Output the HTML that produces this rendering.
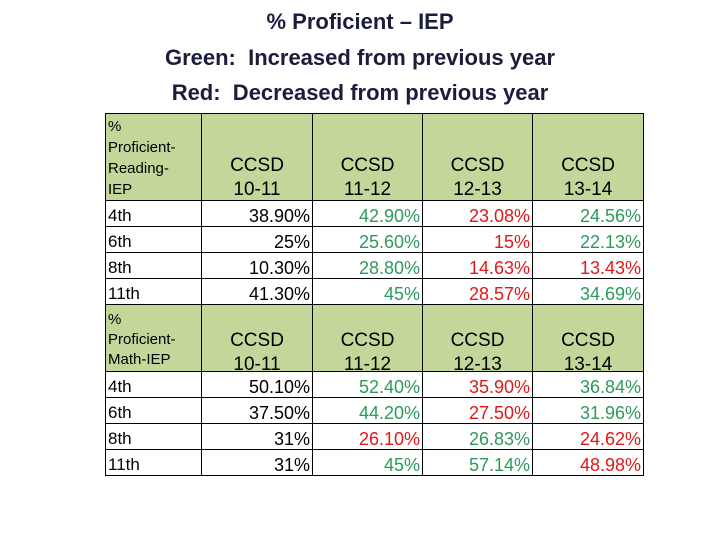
<!DOCTYPE html>
<html><head><meta charset="utf-8"><style>
body{margin:0;width:720px;height:540px;background:#fff;position:relative;font-family:"Liberation Sans",Arial,sans-serif;overflow:hidden}
.t{position:absolute;left:0;width:720px;text-align:center;font-weight:bold;font-size:22px;color:#1c1c3c;line-height:26px}
table{position:absolute;left:105px;top:113px;border-collapse:collapse}
td{border:1px solid #000;padding:0 2px;font-size:18px;line-height:20px;height:25px;text-align:right;vertical-align:bottom}
td.l{text-align:left;font-size:17px}
tr.h td{background:#c4d79b;text-align:center;vertical-align:bottom;padding-bottom:1px;font-size:19px;line-height:24px}
tr.h td.l{text-align:left;font-size:15px;line-height:21px;padding-top:0;vertical-align:top}
tr.h.m td.l{line-height:20px;padding-top:3px}
tr.h td span{position:relative;top:3px}
tr.h.m td span{top:7px}
tr.h td.l span{top:2px}
.g{color:#2d9a5c}.r{color:#e01818}
</style></head><body>
<div class="t" style="top:9px">% Proficient – IEP</div>
<div class="t" style="top:45px">Green:&nbsp; Increased from previous year</div>
<div class="t" style="top:80px">Red:&nbsp; Decreased from previous year</div>
<table>
<colgroup><col style="width:96px"><col style="width:111px"><col style="width:110px"><col style="width:110px"><col style="width:111px"></colgroup>
<tr class="h" style="height:87px"><td class="l"><span>%<br>Proficient-<br>Reading-<br>IEP</span></td><td><span>CCSD<br>10-11</span></td><td><span>CCSD<br>11-12</span></td><td><span>CCSD<br>12-13</span></td><td><span>CCSD<br>13-14</span></td></tr>
<tr><td class="l">4th</td><td>38.90%</td><td class="g">42.90%</td><td class="r">23.08%</td><td class="g">24.56%</td></tr>
<tr><td class="l">6th</td><td>25%</td><td class="g">25.60%</td><td class="r">15%</td><td class="g">22.13%</td></tr>
<tr><td class="l">8th</td><td>10.30%</td><td class="g">28.80%</td><td class="r">14.63%</td><td class="r">13.43%</td></tr>
<tr><td class="l">11th</td><td>41.30%</td><td class="g">45%</td><td class="r">28.57%</td><td class="g">34.69%</td></tr>
<tr class="h m" style="height:67px"><td class="l"><span>%<br>Proficient-<br>Math-IEP</span></td><td><span>CCSD<br>10-11</span></td><td><span>CCSD<br>11-12</span></td><td><span>CCSD<br>12-13</span></td><td><span>CCSD<br>13-14</span></td></tr>
<tr><td class="l">4th</td><td>50.10%</td><td class="g">52.40%</td><td class="r">35.90%</td><td class="g">36.84%</td></tr>
<tr><td class="l">6th</td><td>37.50%</td><td class="g">44.20%</td><td class="r">27.50%</td><td class="g">31.96%</td></tr>
<tr><td class="l">8th</td><td>31%</td><td class="r">26.10%</td><td class="g">26.83%</td><td class="r">24.62%</td></tr>
<tr><td class="l">11th</td><td>31%</td><td class="g">45%</td><td class="g">57.14%</td><td class="r">48.98%</td></tr>
</table>
</body></html>
